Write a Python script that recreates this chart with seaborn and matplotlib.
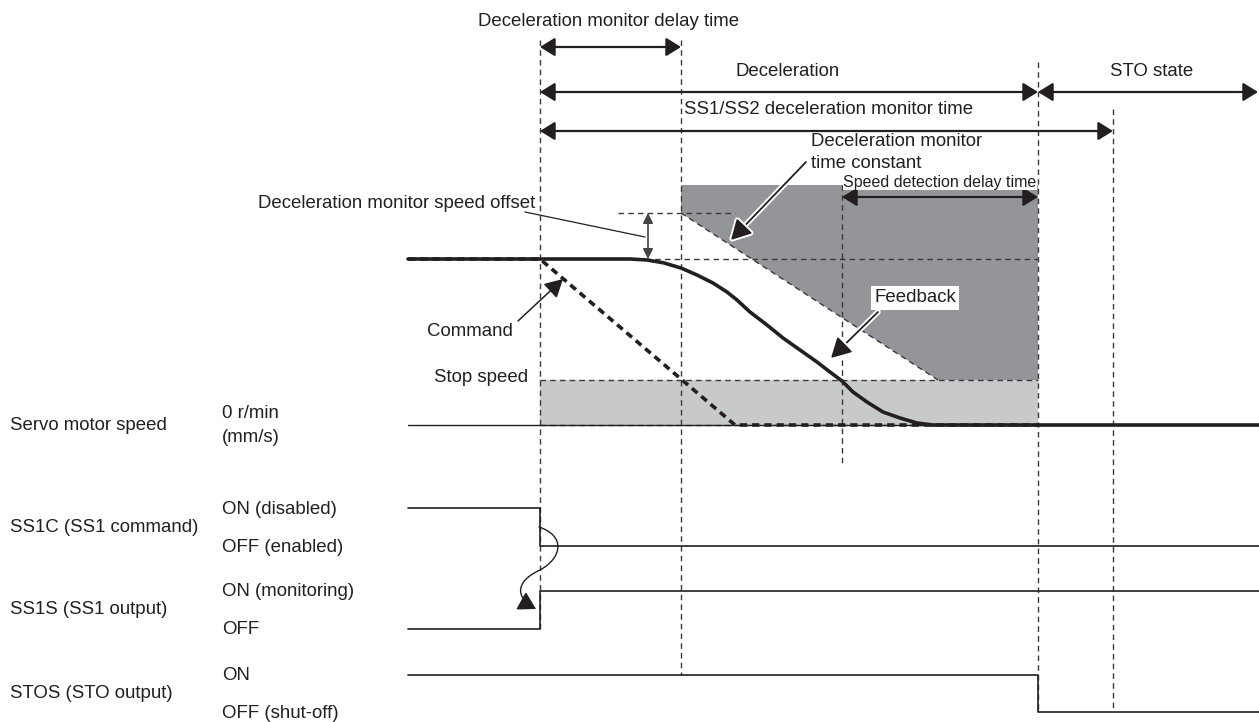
import numpy as np
import pandas as pd
import matplotlib
matplotlib.use("Agg")
import matplotlib.pyplot as plt
import seaborn as sns
from matplotlib.patches import Polygon, Rectangle, FancyArrowPatch
from matplotlib.path import Path
import matplotlib.patheffects as pe

sns.set_theme(style="white")
plt.rcParams['font.family'] = ['Liberation Sans', 'DejaVu Sans']

# ---------------- data (diagram units: time axis -> x, level -> y) ----------------
t_start, t_cmd, t_delay, t_sdd, t_sto, t_mon, t_end = 408, 540, 681, 842, 1038, 1113, 1259
v_band_top, v_offset, v_run, v_stop, v_zero = 185, 213, 259, 380, 425
cmd_ramp_end = 735
band_ramp_end = 938

fb_t = [408, 610, 630, 647, 663, 681, 697, 713, 727, 737, 750, 767, 783, 800, 817, 830,
        842, 853, 867, 883, 900, 917, 933, 950, 1259]
fb_v = [259, 259, 259, 260, 262.7, 268, 275, 283, 292, 300, 312, 325, 338, 350, 362, 372,
        381, 392, 402, 412, 418, 423, 425, 425, 425]

cmd_t = [t_start, t_cmd, cmd_ramp_end, t_sto]
cmd_v = [v_run, v_run, v_zero, v_zero]

ss1c_t = [t_start, t_cmd, t_cmd, t_end]
ss1c_v = [508, 508, 546, 546]
ss1s_t = [t_start, t_cmd, t_cmd, t_end]
ss1s_v = [629, 629, 591, 591]
stos_t = [t_start, t_sto, t_sto, t_end]
stos_v = [675, 675, 712, 712]

row_names = ["Servo motor speed", "SS1C (SS1 command)", "SS1S (SS1 output)", "STOS (STO output)"]
row_y = [425, 527, 610, 693]
state_labels = ["0 r/min", "(mm/s)", "ON (disabled)", "OFF (enabled)", "ON (monitoring)", "OFF", "ON", "OFF (shut-off)"]
state_y = [413, 437, 509, 548, 591, 629, 676, 713]

DARK = "#231f20"
DGRAY = "#939598"
LGRAY = "#c8c9cb"
DASHC = "#3a3a3a"

fig = plt.figure(figsize=(12.59, 7.22), dpi=100)
ax = fig.add_axes([0, 0, 1, 1])
ax.set_xlim(0, 1259)
ax.set_ylim(722, 0)
ax.axis("off")

# ---------------- shaded regions ----------------
ax.add_patch(Rectangle((t_cmd, v_stop), t_sto - t_cmd, v_zero - v_stop, facecolor=LGRAY, edgecolor="none", zorder=1))
ax.add_patch(Polygon([(t_delay, v_band_top), (t_sto, v_band_top), (t_sto, v_stop),
                      (band_ramp_end, v_stop), (t_delay, v_offset)], closed=True,
                     facecolor=DGRAY, edgecolor="none", zorder=1))

dash_kw = dict(color=DASHC, lw=1.0, dashes=(4, 3), zorder=2)

def seg(xs, ys, **kw):
    df = pd.DataFrame({"x": xs, "y": ys})
    sns.lineplot(data=df, x="x", y="y", ax=ax, sort=False, estimator=None, **kw)

# diagonal of monitor band
seg([t_delay, band_ramp_end], [v_offset, v_stop], **dash_kw)
# horizontal dashed lines
seg([618, cmd_ramp_end], [v_offset, v_offset], **dash_kw)
seg([645, t_sto], [v_run, v_run], **dash_kw)
seg([t_cmd, t_sto], [v_stop, v_stop], **dash_kw)
seg([t_cmd, t_sto], [v_zero, v_zero], **dash_kw)

# vertical dashed event lines
vlines = [(t_cmd, 40, 629), (t_delay, 40, 675), (t_sdd, 185, 463), (t_sto, 62, 712), (t_mon, 109, 712)]
for x, y0, y1 in vlines:
    seg([x, x], [y0, y1], **dash_kw)

# zero line
seg([t_start, t_end], [v_zero, v_zero], color=DARK, lw=1.0, zorder=3)

# command (thick dashed) and feedback (thick solid)
seg(cmd_t, cmd_v, color=DARK, lw=2.6, dashes=(2.0, 1.4), zorder=4)
seg(fb_t, fb_v, color=DARK, lw=2.6, zorder=5)

# signals
for tt, vv in [(ss1c_t, ss1c_v), (ss1s_t, ss1s_v), (stos_t, stos_v)]:
    seg(tt, vv, color=DARK, lw=1.2, zorder=3)

# ---------------- arrows ----------------
def darrow(x0, x1, y, style="<|-|>", ms=20, lw=1.6, color=DARK, z=6):
    a = FancyArrowPatch((x0, y), (x1, y), arrowstyle=f"{style},head_length=0.45,head_width=0.28",
                        mutation_scale=ms, lw=lw, color=color, shrinkA=0, shrinkB=0, zorder=z)
    ax.add_patch(a)

darrow(t_cmd, t_delay, 47)
darrow(t_cmd, t_sto, 92)
darrow(t_sto, t_end - 1, 92)
darrow(t_cmd, t_mon, 131)
darrow(t_sdd, t_sto, 197)

# speed offset arrow (vertical)
ax.add_patch(FancyArrowPatch((648, v_offset), (648, v_run), arrowstyle="<|-|>,head_length=0.5,head_width=0.25",
                             mutation_scale=12, lw=1.2, color="#444444", shrinkA=0, shrinkB=0, zorder=6))

# leader line for offset
ax.plot([525, 645], [212, 237], color=DARK, lw=0.9, zorder=6)

# white-outlined pointer arrows
def pointer(x0, y0, x1, y1):
    a = FancyArrowPatch((x0, y0), (x1, y1), arrowstyle="-|>,head_length=0.55,head_width=0.3",
                        mutation_scale=22, lw=1.3, color=DARK, shrinkA=0, shrinkB=0, zorder=7,
                        path_effects=[pe.withStroke(linewidth=4, foreground="white")])
    ax.add_patch(a)

pointer(806, 162, 731, 240)   # deceleration monitor time constant
pointer(878, 312, 831, 358)   # feedback
ax.add_patch(FancyArrowPatch((518, 321), (563, 279), arrowstyle="-|>,head_length=0.55,head_width=0.3",
                             mutation_scale=20, lw=1.1, color=DARK, shrinkA=0, shrinkB=0, zorder=7))

# curved causality arrow SS1C -> SS1S
verts = [(539, 527), (566, 536), (562, 558), (540, 570), (514, 582), (516, 598), (536, 609)]
codes = [Path.MOVETO, Path.CURVE4, Path.CURVE4, Path.CURVE4, Path.CURVE4, Path.CURVE4, Path.CURVE4]
ax.add_patch(FancyArrowPatch(path=Path(verts, codes), arrowstyle="-|>,head_length=0.6,head_width=0.35",
                             mutation_scale=18, lw=1.0, color=DARK, zorder=7))

# ---------------- text ----------------
fs = 13.4
ax.text(609, 21, "Deceleration monitor delay time", ha="center", va="center", fontsize=fs, color=DARK)
ax.text(788, 72, "Deceleration", ha="center", va="center", fontsize=fs, color=DARK)
ax.text(1152, 72, "STO state", ha="center", va="center", fontsize=fs, color=DARK)
ax.text(684, 110, "SS1/SS2 deceleration monitor time", ha="left", va="center", fontsize=fs, color=DARK)
ax.text(811, 142, "Deceleration monitor", ha="left", va="center", fontsize=fs, color=DARK)
ax.text(811, 163, "time constant", ha="left", va="center", fontsize=fs, color=DARK)
ax.text(940, 182, "Speed detection delay time", ha="center", va="center", fontsize=11.5, color=DARK,
        bbox=dict(facecolor="white", edgecolor="none", pad=0.5), zorder=8)
ax.text(535, 204, "Deceleration monitor speed offset", ha="right", va="center", fontsize=fs, color=DARK)
ax.text(470, 331, "Command", ha="center", va="center", fontsize=fs, color=DARK)
ax.text(528, 378, "Stop speed", ha="right", va="center", fontsize=fs, color=DARK)
ax.text(915, 298, "Feedback", ha="center", va="center", fontsize=fs, color=DARK,
        bbox=dict(facecolor="white", edgecolor="none", pad=2.5), zorder=8)

for name, y in zip(row_names, row_y):
    ax.text(10, y, name, ha="left", va="center", fontsize=fs, color=DARK)
for lab, y in zip(state_labels, state_y):
    ax.text(222, y, lab, ha="left", va="center", fontsize=fs, color=DARK)

fig.savefig("out.png", dpi=100, facecolor="white")
